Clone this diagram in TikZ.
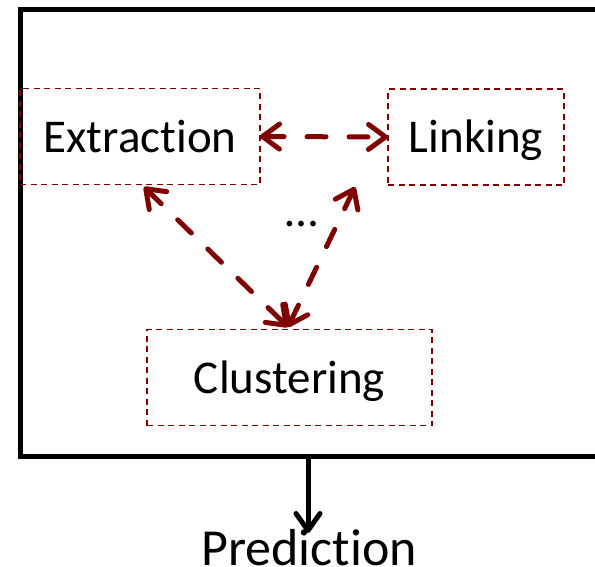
\documentclass[tikz,border=0pt]{standalone}
\usepackage{fontspec}
\setmainfont{Carlito}[Ligatures={NoCommon,NoContextual,NoRequired}]
\usetikzlibrary{arrows.meta,calc}
\definecolor{dred}{RGB}{128,0,0}
\begin{document}
\begin{tikzpicture}[x=1pt,y=-1pt,
  stage/.style={draw=dred, line width=1.6pt, dash pattern=on 6pt off 4.5pt,
    minimum width=#1, minimum height=96pt, inner sep=0pt, outer sep=0pt,
    text height=31pt, text depth=0pt, font=\fontsize{47}{56}\selectfont},
  redlink/.style={draw=dred, line width=5pt, line cap=round, dash pattern=on 19pt off 23pt,
    {Straight Barb[length=17pt,width=25pt,round]}-{Straight Barb[length=17pt,width=25pt,round]}},
  frame/.style={draw=black, line width=5pt, inner sep=0pt, outer sep=0pt},
  outarrow/.style={draw=black, line width=5pt, -{Straight Barb[length=17pt,width=24pt,round]}},
  big/.style={inner sep=0pt, font=\fontsize{52}{60}\selectfont}
]
\clip (0,0) rectangle (595,566);
\useasboundingbox (0,0) rectangle (595,566);

\node[frame, minimum width=599.5pt, minimum height=447pt] (box) at (320.25,232.5) {};

\node[stage=240pt] (extr) at (140,136.5) {Extrac\kern0pt tion};
\node[stage=176pt] (link) at (476,137) {Linking};
\node[stage=285pt] (clus) at (289.5,377.5) {Clustering};

\node[inner sep=0pt, anchor=base, font=\fontsize{47}{56}\selectfont] (dots) at (302,226) {\ldots};

\coordinate (eb) at (144,187);
\coordinate (lb) at (355,187);
\coordinate (ct) at (288,327);

\draw[redlink] (extr.east) -- (link.west);
\draw[redlink] (eb) -- (ct);
\draw[redlink] (lb) -- (ct);

\node[big, anchor=base] (pred) at (309,565) {Predic\kern0pt tion};
\coordinate (pbot) at (box.south -| 308,0);
\coordinate (ptip) at (308,533);
\draw[outarrow] (pbot) -- (ptip);
\end{tikzpicture}
\end{document}
